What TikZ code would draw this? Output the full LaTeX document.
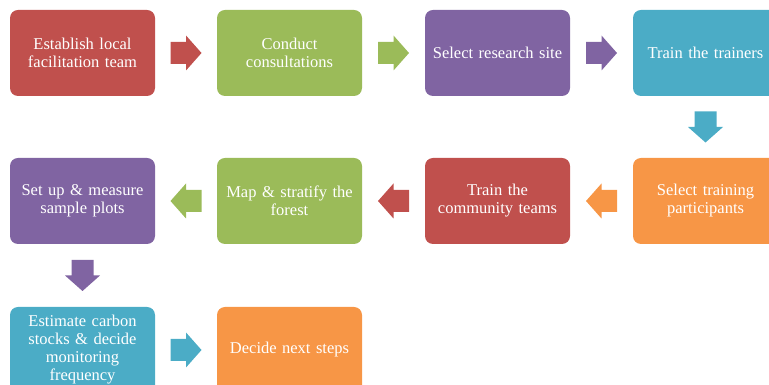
\documentclass[tikz,border=0pt]{standalone}
\usepackage{fontspec}
\setmainfont{Liberation Serif}
\usetikzlibrary{calc}
\definecolor{cred}{HTML}{C0504D}
\definecolor{cgreen}{HTML}{9BBB59}
\definecolor{cpurple}{HTML}{8064A2}
\definecolor{ccyan}{HTML}{4BACC6}
\definecolor{corange}{HTML}{F79646}
\tikzset{
  stepbox/.style={rectangle, rounded corners=8pt, minimum width=145pt, minimum height=86pt,
    inner sep=2pt, align=center, text width=141pt, text=white,
    font=\fontsize{16.5}{18}\selectfont},
  barrow/.pic={\fill[pic actions] (-15.5,-11) -- (0,-11) -- (0,-17.5) -- (15.5,0) -- (0,17.5) -- (0,11) -- (-15.5,11) -- cycle;}
}
\begin{document}
\begin{tikzpicture}[x=1pt,y=1pt]
\useasboundingbox (0,0) rectangle (769,385);
\begin{scope}
\clip (0,0) rectangle (769,385);
% row 1
\node[stepbox, fill=cred] (b1) at (82.5,332) {Establish local\\facilitation team};
\node[stepbox, fill=cgreen] (b2) at (289.5,332) {Conduct\\consultations};
\node[stepbox, fill=cpurple] (b3) at (497.5,332) {Select research site};
\node[stepbox, fill=ccyan] (b4) at (705.5,332) {Train the trainers};
% row 2
\node[stepbox, fill=corange] (b5) at (705.5,184) {Select training\\participants};
\node[stepbox, fill=cred] (b6) at (497.5,184) {Train the\\community teams};
\node[stepbox, fill=cgreen] (b7) at (289.5,184) {Map \& stratify the\\forest};
\node[stepbox, fill=cpurple] (b8) at (82.5,184) {Set up \& measure\\sample plots};
% row 3
\node[stepbox, fill=ccyan] (b9) at (82.5,35) {Estimate carbon\\stocks \& decide\\monitoring\\frequency};
\node[stepbox, fill=corange] (b10) at (289.5,35) {Decide next steps};
% arrows
\pic[fill=cred] at ($(b1.east)!0.5!(b2.west)$) {barrow};
\pic[fill=cgreen] at ($(b2.east)!0.5!(b3.west)$) {barrow};
\pic[fill=cpurple] at ($(b3.east)!0.5!(b4.west)$) {barrow};
\pic[fill=ccyan, rotate=-90] at ($(b4.south)!0.5!(b5.north)$) {barrow};
\pic[fill=corange, rotate=180] at ($(b5.west)!0.5!(b6.east)$) {barrow};
\pic[fill=cred, rotate=180] at ($(b6.west)!0.5!(b7.east)$) {barrow};
\pic[fill=cgreen, rotate=180] at ($(b7.west)!0.5!(b8.east)$) {barrow};
\pic[fill=cpurple, rotate=-90] at ($(b8.south)!0.5!(b9.north)$) {barrow};
\pic[fill=ccyan] at ($(b9.east)!0.5!(b10.west)$) {barrow};
\end{scope}
\end{tikzpicture}
\end{document}
